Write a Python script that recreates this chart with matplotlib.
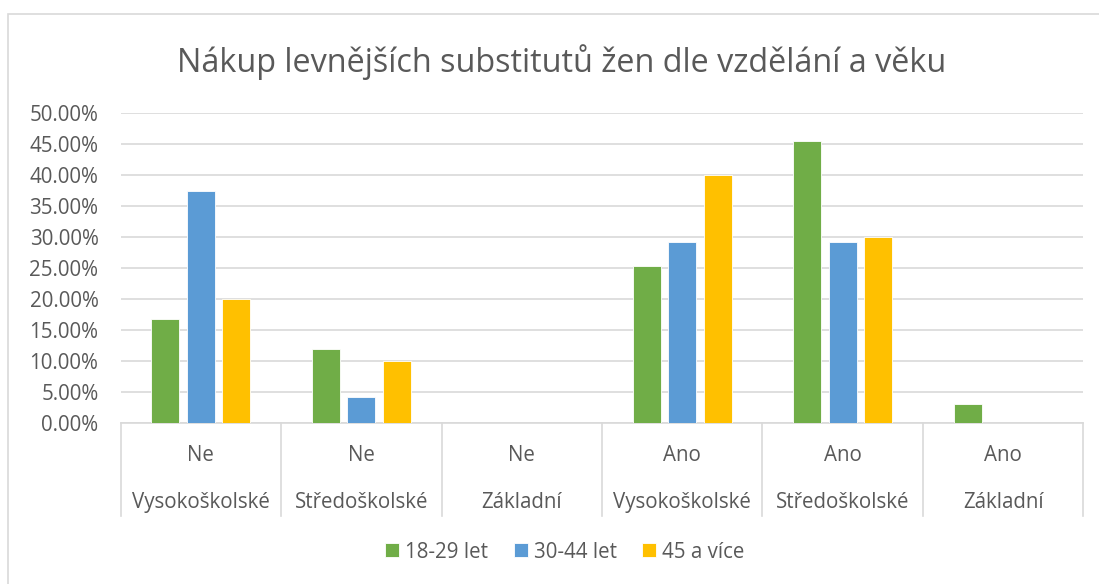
import matplotlib
matplotlib.use("Agg")
import matplotlib.pyplot as plt
import matplotlib.transforms as mtransforms
from matplotlib.patches import Rectangle
from matplotlib.ticker import FuncFormatter
import numpy as np

# data
answers = ["Ne", "Ne", "Ne", "Ano", "Ano", "Ano"]
education = ["Vysokoškolské", "Středoškolské", "Základní",
             "Vysokoškolské", "Středoškolské", "Základní"]
series_names = ["18-29 let", "30-44 let", "45 a více"]
age_18_29 = [0.168, 0.119, 0.0, 0.254, 0.455, 0.030]
age_30_44 = [0.375, 0.0417, 0.0, 0.2917, 0.2917, 0.0]
age_45 = [0.20, 0.10, 0.0, 0.40, 0.30, 0.0]
colors = ["#70AD47", "#5B9BD5", "#FFC000"]

plt.rcParams["font.family"] = ["Open Sans", "DejaVu Sans"]
text_col = "#595959"
grid_col = "#D9D9D9"
fs = 14.8

fig = plt.figure(figsize=(10.99, 5.84), dpi=100)
ax = fig.add_axes([0.1098, 0.2757, 0.8759, 0.5308])

# chart area border (only top/left visible in the crop)
fig.patches.append(Rectangle((8 / 1099, -0.05), 1.1, 1 - 14 / 584 + 0.05,
                             transform=fig.transFigure, fill=False,
                             edgecolor=grid_col, lw=1.2))

x = np.arange(len(answers))
pitch = 0.221
width = 0.175
for i, (vals, name) in enumerate(zip([age_18_29, age_30_44, age_45], series_names)):
    ax.bar(x + (i - 1) * pitch, vals, width, color=colors[i], label=name,
           edgecolor="white", linewidth=0.6, zorder=3)

ax.set_xlim(-0.5, len(answers) - 0.5)
ax.set_ylim(0, 0.5)
ax.set_yticks(np.arange(0, 0.501, 0.05))
ax.yaxis.set_major_formatter(FuncFormatter(lambda v, p: f"{v * 100:.2f}%"))
ax.grid(axis="y", color=grid_col, lw=1.2, zorder=0)
for s in ["left", "right", "top"]:
    ax.spines[s].set_visible(False)
ax.spines["bottom"].set_color(grid_col)
ax.spines["bottom"].set_linewidth(1.2)
ax.tick_params(axis="y", length=0, pad=16, labelsize=fs, labelcolor=text_col)
ax.set_xticks([])

# two-level category axis
trans = mtransforms.blended_transform_factory(ax.transData, ax.transAxes)
for b in np.arange(-0.5, len(answers), 1.0):
    ax.plot([b, b], [0, -0.30], transform=trans, color=grid_col, lw=1.2,
            clip_on=False)
for xi, a, e in zip(x, answers, education):
    ax.text(xi, -0.105, a, transform=trans, ha="center", va="center",
            fontsize=fs, color=text_col)
    ax.text(xi, -0.258, e, transform=trans, ha="center", va="center",
            fontsize=fs, color=text_col)

fig.text(561.5 / 1099, 1 - 62 / 584,
         "Nákup levnějších substitutů žen dle vzdělání a věku",
         ha="center", va="center", fontsize=23.3, color=text_col)

fig.legend(loc="center", bbox_to_anchor=(565 / 1099, 1 - 552 / 584),
           ncol=3, frameon=False, fontsize=fs, labelcolor=text_col,
           handlelength=0.67, handleheight=0.67, handletextpad=0.3,
           columnspacing=1.25)

fig.savefig("out.png", dpi=100)
